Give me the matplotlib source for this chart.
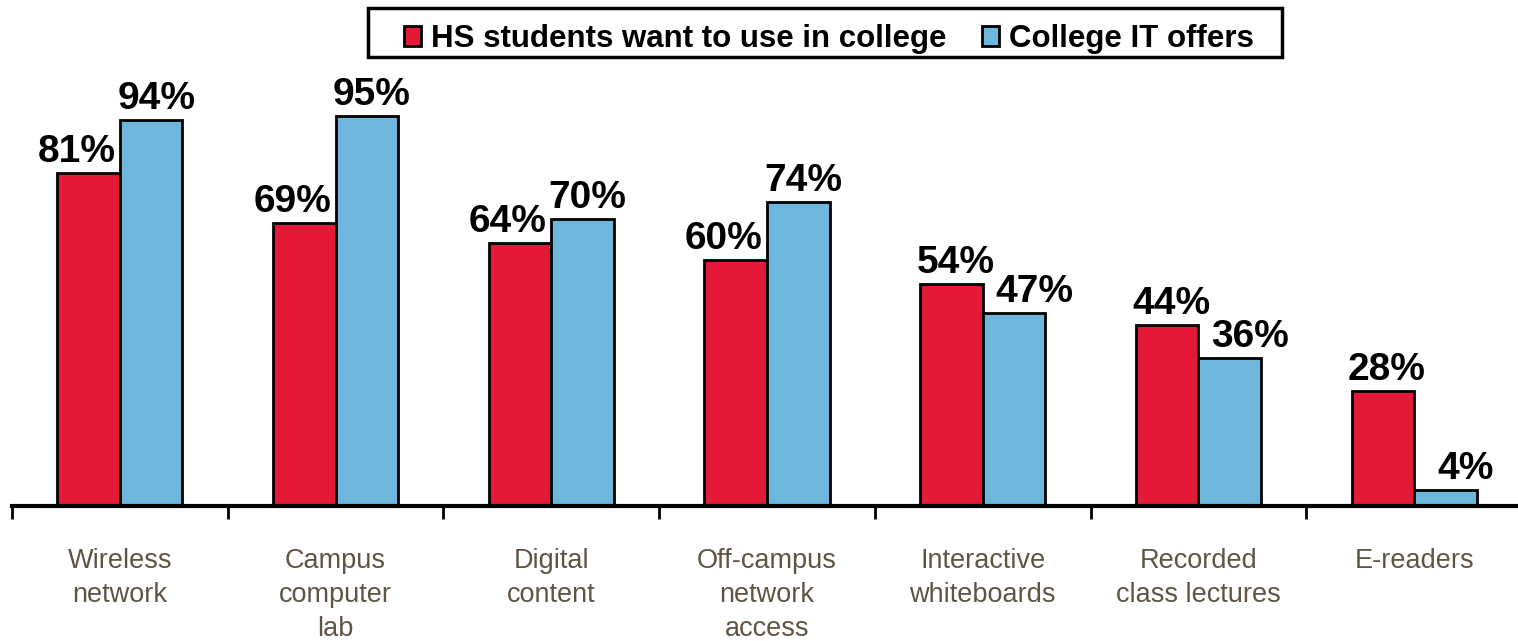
import matplotlib.pyplot as plt
from matplotlib.patches import Rectangle
import numpy as np

# Technology use: what HS students want vs what college IT offers (%)
categories = ["Wireless\nnetwork", "Campus\ncomputer\nlab", "Digital\ncontent",
              "Off-campus\nnetwork\naccess", "Interactive\nwhiteboards",
              "Recorded\nclass lectures", "E-readers"]
hs_want = [81, 69, 64, 60, 54, 44, 28]
it_offers = [94, 95, 70, 74, 47, 36, 4]
series_names = ["HS students want to use in college", "College IT offers"]

RED = "#e31937"
BLUE = "#6cb7db"
LABEL_GREY = "#5e5545"

plt.rcParams["font.family"] = ["Liberation Sans", "DejaVu Sans"]

W, H = 1518, 641
fig = plt.figure(figsize=(W / 100, H / 100), dpi=100)
# baseline sits 135px above the bottom; 94% reaches 386px above the baseline
ax = fig.add_axes([12 / W, 135 / H, 1510 / W, 386 / H * 1.3])

x = np.arange(len(categories))
w = 0.29
bars_hs = ax.bar(x - w / 2, hs_want, w, color=RED, edgecolor="black", linewidth=2,
                 label=series_names[0], zorder=2)
bars_it = ax.bar(x + w / 2, it_offers, w, color=BLUE, edgecolor="black", linewidth=2,
                 label=series_names[1], zorder=2)

# value labels: nudge the pair apart so they don't collide
px = 72 / 100
for b_hs, b_it in zip(bars_hs, bars_it):
    if b_hs.get_height() < b_it.get_height():
        offs = (-12, 5)
    else:
        offs = (4, 20)
    for b, dx in zip((b_hs, b_it), offs):
        v = b.get_height()
        ax.annotate(f"{v:.0f}%", (b.get_x() + b.get_width() / 2, v),
                    xytext=(dx * px, 11 * px), textcoords="offset points",
                    ha="center", va="baseline", fontsize=28, fontweight="bold")

ax.set_xlim(-0.5, len(categories) - 0.5)
ax.set_ylim(0, 94 * 1.3)

for s in ("top", "right", "left"):
    ax.spines[s].set_visible(False)
ax.spines["bottom"].set_linewidth(3)
ax.set_yticks([])

# ticks sit at category boundaries, labels centered under each group
ax.set_xticks(np.arange(len(categories) + 1) - 0.5)
ax.set_xticklabels([])
ax.tick_params(axis="x", length=9, width=2, direction="out")
for i, c in enumerate(categories):
    ax.annotate(c, (i, 0), xytext=(0, -42 * px), textcoords="offset points",
                ha="center", va="top", fontsize=19.5, color=LABEL_GREY,
                linespacing=1.4)

# legend box drawn separately so its padding can be set freely
fig.patches.append(Rectangle((368 / W, 1 - 57 / H), 914 / W, 49 / H,
                             transform=fig.transFigure, fill=False,
                             edgecolor="black", linewidth=2.5))
fig.legend(handles=[bars_hs, bars_it], loc="center",
           bbox_to_anchor=(829 / W, 1 - 39 / H), ncol=2, frameon=False,
           prop={"weight": "bold", "size": 22.5},
           handlelength=0.54, handleheight=0.58, handletextpad=0.32,
           columnspacing=1.15, borderpad=0)

fig.savefig("out.png", dpi=100)
